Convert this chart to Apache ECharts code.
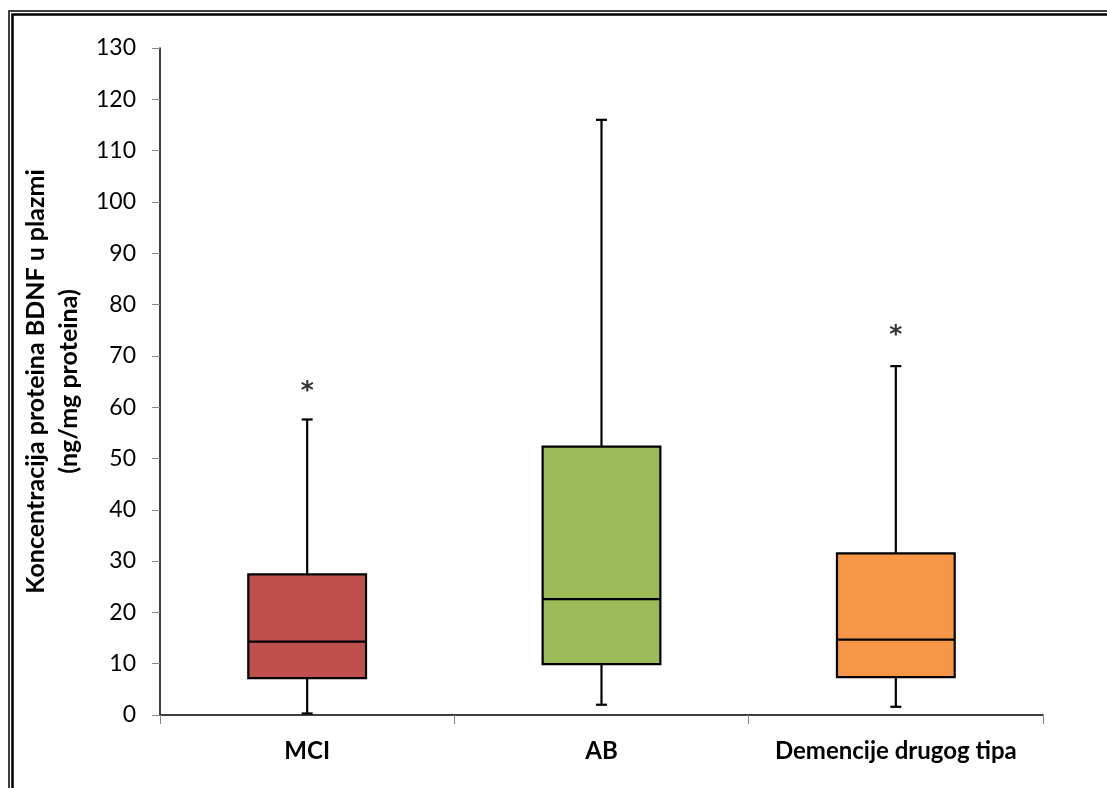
<!DOCTYPE html>
<html><head><meta charset="utf-8">
<script src="https://cdn.jsdelivr.net/npm/echarts@6/dist/echarts.min.js"></script>
<style>html,body{margin:0;padding:0;background:#fff}#c{width:1107px;height:788px}</style>
</head><body><div id="c"></div>
<script>
const categories = ['MCI', 'AB', 'Demencije drugog tipa'];
const mins    = [0.3, 2.0, 1.6];
const q1s     = [7.2, 9.9, 7.4];
const medians = [14.3, 22.6, 14.7];
const q3s     = [27.4, 52.3, 31.5];
const maxs    = [57.6, 116.0, 68.0];
const boxColors = ['#C0504D', '#9BBB59', '#F79646'];
const starValues = [64.3, null, 75.2];
const yTicks = [0, 130, 10];

const FONT = 'Lato, "Open Sans", sans-serif';
const chart = echarts.init(document.getElementById('c'), null, {renderer: 'canvas'});
const data = categories.map((c, i) => [i, mins[i], q1s[i], medians[i], q3s[i], maxs[i]]);

chart.setOption({
  animation: false,
  backgroundColor: '#fff',
  grid: {left: 160, right: 64, top: 48, bottom: 73, containLabel: false},
  xAxis: {
    type: 'category', data: categories,
    axisLine: {lineStyle: {color: '#000', width: 1.5}},
    axisTick: {show: true, alignWithLabel: false, length: 9, lineStyle: {color: '#868686', width: 1}},
    axisLabel: {interval: 0, color: '#000', fontSize: 24, fontWeight: 'bold', fontFamily: FONT, margin: 24},
    splitLine: {show: false}
  },
  yAxis: {
    type: 'value', min: yTicks[0], max: yTicks[1], interval: yTicks[2],
    name: 'Koncentracija proteina BDNF u plazmi\n(ng/mg proteina)',
    nameLocation: 'middle', nameRotate: 90, nameGap: 70,
    nameTextStyle: {color: '#000', fontSize: 25, fontWeight: 'bold', fontFamily: FONT, lineHeight: 33},
    axisLine: {show: true, lineStyle: {color: '#000', width: 1.5}},
    axisTick: {show: true, length: 8, lineStyle: {color: '#868686', width: 1}},
    axisLabel: {color: '#000', fontSize: 23, fontFamily: FONT, margin: 24},
    splitLine: {show: false}
  },
  series: [
    {
      type: 'custom',
      data: data,
      encode: {x: 0, y: [1, 2, 3, 4, 5]},
      renderItem: function (params, api) {
        const i = api.value(0);
        const pMin = api.coord([i, api.value(1)]);
        const pQ1 = api.coord([i, api.value(2)]);
        const pMed = api.coord([i, api.value(3)]);
        const pQ3 = api.coord([i, api.value(4)]);
        const pMax = api.coord([i, api.value(5)]);
        const band = api.size([1, 0])[0];
        const half = band * 0.2;
        const cap = 5.5;
        const x = pMed[0];
        const ls = {stroke: '#000', lineWidth: 2.2};
        return {
          type: 'group',
          children: [
            {type: 'line', shape: {x1: x, y1: pMax[1], x2: x, y2: pQ3[1]}, style: ls},
            {type: 'line', shape: {x1: x, y1: pMin[1], x2: x, y2: pQ1[1]}, style: ls},
            {type: 'line', shape: {x1: x - cap, y1: pMax[1], x2: x + cap, y2: pMax[1]}, style: ls},
            {type: 'line', shape: {x1: x - cap, y1: pMin[1], x2: x + cap, y2: pMin[1]}, style: ls},
            {type: 'rect', shape: {x: x - half, y: pQ3[1], width: 2 * half, height: pQ1[1] - pQ3[1]},
             style: {fill: boxColors[i], stroke: '#000', lineWidth: 2.2}},
            {type: 'line', shape: {x1: x - half, y1: pMed[1], x2: x + half, y2: pMed[1]}, style: ls}
          ]
        };
      }
    },
    {
      type: 'scatter',
      symbolSize: 0,
      data: starValues.map((v, i) => v == null ? null : [i, v]).filter(d => d),
      label: {show: true, formatter: '*', position: 'inside', color: '#000', fontSize: 25, fontWeight: 'bold', fontFamily: '"DejaVu Sans", sans-serif', offset: [0, 6]}
    }
  ],
  graphic: [
    {type: 'rect', silent: true, shape: {x: 9, y: 11, width: 1300, height: 1000}, style: {fill: null, stroke: '#000', lineWidth: 1.5}},
    {type: 'rect', silent: true, shape: {x: 12.5, y: 14.5, width: 1300, height: 1000}, style: {fill: null, stroke: '#000', lineWidth: 2.5}}
  ]
});
</script></body></html>
